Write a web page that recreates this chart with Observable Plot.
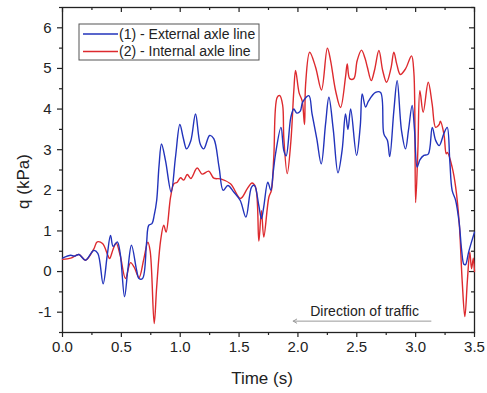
<!DOCTYPE html>
<html>
<head>
<meta charset="utf-8">
<script src="https://cdn.jsdelivr.net/npm/d3@7"></script>
<script src="https://cdn.jsdelivr.net/npm/@observablehq/plot@0.6"></script>
<style>
  html, body { margin: 0; padding: 0; background: #fff; }
  svg { display: block; }
</style>
</head>
<body>
<div id="chart"></div>
<script>
// ---- Data ----
const seriesNames = ["(1) - External axle line", "(2) - Internal axle line"];
const seriesColors = ["#2233bb", "#dd2a2e"];

const tExternal = [0.00,0.07,0.10,0.14,0.195,0.265,0.30,0.345,0.38,0.408,0.43,0.465,0.49,0.527,0.555,0.586,0.63,0.65,0.68,0.714,0.733,0.76,0.78,0.80,0.82,0.841,0.875,0.923,0.96,0.997,1.025,1.054,1.09,1.13,1.17,1.20,1.25,1.285,1.33,1.365,1.405,1.455,1.51,1.558,1.606,1.63,1.668,1.69,1.71,1.744,1.77,1.79,1.81,1.856,1.88,1.90,1.94,1.965,1.99,2.02,2.04,2.093,2.12,2.16,2.198,2.235,2.263,2.30,2.34,2.376,2.404,2.425,2.448,2.498,2.53,2.546,2.575,2.60,2.659,2.702,2.73,2.76,2.78,2.815,2.843,2.88,2.914,2.94,2.97,2.99,3.013,3.036,3.07,3.107,3.141,3.17,3.20,3.24,3.268,3.29,3.31,3.34,3.37,3.39,3.41,3.424,3.45,3.50];
const qExternal = [0.33,0.40,0.38,0.42,0.28,0.52,0.45,-0.30,0.40,0.89,0.62,0.73,0.45,-0.62,0.05,0.65,0.03,-0.17,-0.17,0.70,1.14,1.18,1.40,1.75,2.60,3.14,2.73,1.96,2.82,3.62,3.30,3.02,3.22,3.88,3.14,3.02,3.35,3.27,2.57,2.00,2.12,1.96,1.75,1.34,2.08,2.12,1.62,1.30,1.60,2.20,2.00,2.45,2.90,3.55,2.98,2.85,3.80,4.00,3.90,3.95,4.17,4.33,3.88,3.27,2.65,3.64,4.29,3.50,2.43,3.00,3.88,3.50,4.00,2.86,3.60,4.37,4.05,4.20,4.41,4.41,3.39,3.23,2.83,3.96,4.70,3.47,3.02,3.50,4.09,3.50,2.57,2.75,2.86,2.89,3.55,3.23,3.10,3.40,3.55,2.73,2.00,1.75,1.20,0.55,0.18,0.17,0.48,0.97];

const tInternal = [0.00,0.07,0.14,0.195,0.265,0.295,0.34,0.385,0.40,0.43,0.456,0.49,0.535,0.578,0.61,0.65,0.69,0.725,0.745,0.779,0.80,0.833,0.86,0.88,0.918,0.946,0.975,1.003,1.03,1.06,1.09,1.144,1.186,1.243,1.285,1.343,1.427,1.512,1.57,1.61,1.64,1.668,1.69,1.71,1.753,1.775,1.795,1.824,1.846,1.87,1.88,1.909,1.94,1.965,1.98,2.01,2.036,2.056,2.065,2.10,2.15,2.20,2.25,2.277,2.32,2.362,2.404,2.419,2.44,2.475,2.503,2.54,2.57,2.59,2.623,2.65,2.688,2.72,2.753,2.79,2.815,2.84,2.87,2.914,2.965,2.985,3.00,3.019,3.036,3.064,3.107,3.14,3.17,3.20,3.21,3.24,3.26,3.27,3.31,3.34,3.37,3.395,3.418,3.44,3.46,3.475,3.49,3.50];
const qInternal = [0.30,0.33,0.42,0.28,0.55,0.73,0.69,0.40,0.32,0.55,0.70,0.40,-0.17,0.22,0.10,-0.15,0.30,0.72,0.50,-1.28,-0.38,0.75,1.14,0.97,1.83,2.16,2.20,2.31,2.25,2.39,2.29,2.55,2.40,2.47,2.30,2.28,2.16,1.80,2.04,2.18,2.08,0.75,1.50,0.85,1.83,2.00,2.82,4.29,4.33,4.10,3.30,2.41,3.20,4.45,4.95,4.40,4.20,3.62,4.60,5.40,5.03,4.47,5.50,5.20,4.45,4.04,4.78,5.11,4.75,4.75,5.19,5.45,5.25,5.03,4.70,4.95,5.44,4.95,4.66,5.00,5.40,5.10,4.85,4.99,5.31,4.90,1.70,3.00,4.45,3.92,4.66,4.13,3.55,3.62,3.70,3.39,2.90,2.93,2.57,2.08,1.20,-0.21,-1.11,-0.20,0.48,0.07,0.33,0.00];

const xMajorTicks = [0, 0.5, 1.0, 1.5, 2.0, 2.5, 3.0, 3.5];
const xMinorTicks = [0.25, 0.75, 1.25, 1.75, 2.25, 2.75, 3.25];
const yMajorTicks = [-1, 0, 1, 2, 3, 4, 5, 6];
const yMinorTicks = [-1.5, -0.5, 0.5, 1.5, 2.5, 3.5, 4.5, 5.5, 6.5];

const xLabel = "Time (s)";
const yLabel = "q (kPa)";

// annotation: "Direction of traffic" and its arrow (data units)
const annotationText = [{t: 2.566, q: -0.98, label: "Direction of traffic"}];
const annotationArrow = [{t1: 3.13, q1: -1.22, t2: 1.96, q2: -1.22}];

// ---- Build tables ----
const external = tExternal.map((t, i) => ({t, q: qExternal[i]}));
const internal = tInternal.map((t, i) => ({t, q: qInternal[i]}));

const W = 487, H = 393;
const mL = 62, mR = 13, mT = 7, mB = 61;
const innerW = W - mL - mR, innerH = H - mT - mB;
const font = "'Liberation Sans', Arial, Helvetica, sans-serif";

const plot = Plot.plot({
  width: W,
  height: H,
  marginLeft: mL,
  marginRight: mR,
  marginTop: mT,
  marginBottom: mB,
  style: {fontFamily: font, background: "#fff", color: "#222"},
  x: {domain: [0, 3.5]},
  y: {domain: [-1.5, 6.5]},
  marks: [
    // bottom axis (outward ticks)
    Plot.axisX({ticks: xMajorTicks, tickSize: 5, tickPadding: 4, tickFormat: d3.format(".1f"), label: null, fontSize: 15, strokeWidth: 1.2}),
    Plot.axisX({ticks: xMinorTicks, tickSize: 3, tickFormat: () => "", label: null, strokeWidth: 1.2}),
    // left axis (outward ticks)
    Plot.axisY({ticks: yMajorTicks, tickSize: 5, tickPadding: 6, tickFormat: d => String(d), label: null, fontSize: 15, strokeWidth: 1.2}),
    Plot.axisY({ticks: yMinorTicks, tickSize: 3, tickFormat: () => "", label: null, strokeWidth: 1.2}),
    // top inner ticks
    Plot.ruleX(xMajorTicks, {x: d => d, insetBottom: innerH - 5, stroke: "#222", strokeWidth: 1.2}),
    Plot.ruleX(xMinorTicks, {x: d => d, insetBottom: innerH - 3, stroke: "#222", strokeWidth: 1.2}),
    // right inner ticks
    Plot.ruleY(yMajorTicks, {y: d => d, insetLeft: innerW - 5, stroke: "#222", strokeWidth: 1.2}),
    Plot.ruleY(yMinorTicks, {y: d => d, insetLeft: innerW - 3, stroke: "#222", strokeWidth: 1.2}),
    Plot.frame({stroke: "#222", strokeWidth: 1.3}),
    // series
    Plot.line(internal, {x: "t", y: "q", stroke: seriesColors[1], strokeWidth: 1.4, curve: "catmull-rom"}),
    Plot.line(external, {x: "t", y: "q", stroke: seriesColors[0], strokeWidth: 1.4, curve: "catmull-rom"}),
    // annotation
    Plot.arrow(annotationArrow, {x1: "t1", y1: "q1", x2: "t2", y2: "q2", stroke: "#9a9a9a", strokeWidth: 1, headLength: 6}),
    Plot.text(annotationText, {x: "t", y: "q", text: "label", fontSize: 14, fill: "#222"})
  ]
});

document.getElementById("chart").appendChild(plot);

// ---- Axis titles and legend ----
const svg = d3.select(plot);
svg.append("text")
  .attr("x", mL + innerW / 2 - 6).attr("y", 384)
  .attr("text-anchor", "middle")
  .attr("font-size", 17).attr("font-family", font).attr("fill", "#222")
  .text(xLabel);
svg.append("text")
  .attr("transform", `translate(29, ${mT + innerH / 2 + 12}) rotate(-90)`)
  .attr("text-anchor", "middle")
  .attr("font-size", 17).attr("font-family", font).attr("fill", "#222")
  .text(yLabel);

const lg = svg.append("g").attr("transform", "translate(79,24)");
lg.append("rect").attr("width", 180).attr("height", 36)
  .attr("fill", "#fff").attr("stroke", "#555").attr("stroke-width", 1);
seriesNames.forEach((name, i) => {
  const yy = 10 + i * 17.5;
  lg.append("line").attr("x1", 4).attr("x2", 39).attr("y1", yy).attr("y2", yy)
    .attr("stroke", seriesColors[i]).attr("stroke-width", 1.3);
  lg.append("text").attr("x", 40).attr("y", yy).attr("dy", "0.35em")
    .attr("text-anchor", "start")
    .attr("font-size", 14).attr("font-family", font).attr("fill", "#222")
    .text(name);
});
</script>
</body>
</html>
